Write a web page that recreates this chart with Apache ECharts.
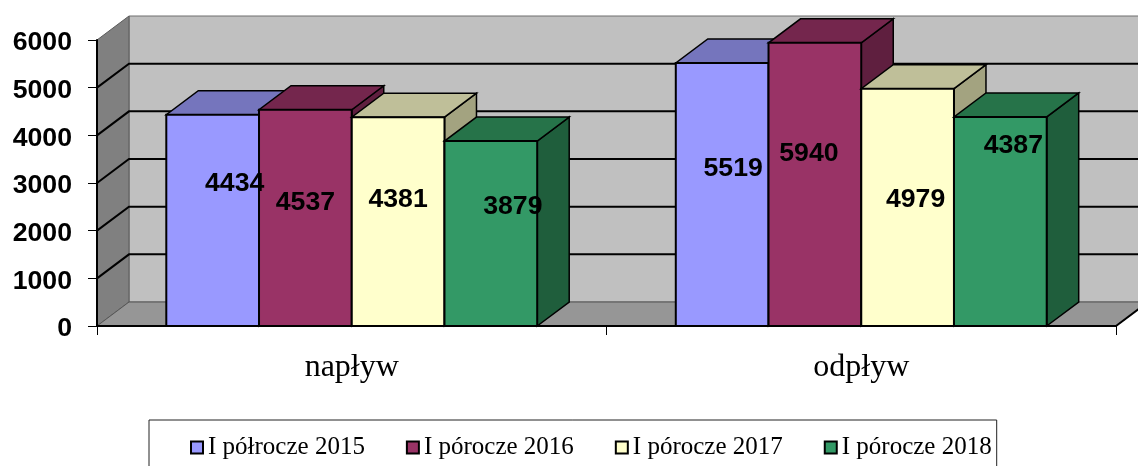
<!DOCTYPE html>
<html>
<head>
<meta charset="utf-8">
<style>html,body{margin:0;padding:0;background:#fff}#c{width:1138px;height:466px}</style>
<script src="https://cdn.jsdelivr.net/npm/echarts@6/dist/echarts.min.js"></script>
</head>
<body>
<div id="c"></div>
<script>
const categories = ['napływ', 'odpływ'];
const yTicks = [0, 1000, 2000, 3000, 4000, 5000, 6000];
const seriesNames = ['I półrocze 2015', 'I pórocze 2016', 'I pórocze 2017', 'I pórocze 2018'];
const values2015 = [4434, 5519];
const values2016 = [4537, 5940];
const values2017 = [4381, 4979];
const values2018 = [3879, 4387];
const allValues = [values2015, values2016, values2017, values2018];

// presentation only
const frontColors = ['#9999FF', '#993366', '#FFFFCC', '#339966'];
const topColors = ['#7575BD', '#74264D', '#BFBF99', '#267349'];
const sideColors = ['#5C5C99', '#5F1F3F', '#A3A380', '#1F5E3C'];
const DEPTH_X = 32, DEPTH_Y = -24, BAR_FRACTION = 0.182;
// hand-placed data labels: [dx from bar centre, dy below bar top]
const labelShift = [
  [[22, 69], [11, 106]],
  [[0, 93], [-6, 111]],
  [[0, 82], [8, 111]],
  [[22, 66], [13, 29]]
];

const chart = echarts.init(document.getElementById('c'));

function poly(points, fill, stroke, lw) {
  return { type: 'polygon', shape: { points }, style: { fill, stroke: stroke || null, lineWidth: lw || 0, lineJoin: 'miter' } };
}

function renderWalls(params, api) {
  const bw = api.size([1, 0])[0];
  const xL = api.coord([0, 0])[0] - bw / 2;
  const xR = api.coord([1, 0])[0] + bw / 2;
  const y0 = api.coord([0, yTicks[0]])[1];
  const yT = api.coord([0, yTicks[yTicks.length - 1]])[1];
  const d = (x, y) => [x + DEPTH_X, y + DEPTH_Y];
  const children = [
    poly([d(xL, yT), d(xR, yT), d(xR, y0), d(xL, y0)], '#C0C0C0', '#6e6e6e', 1),
    poly([[xL, y0], d(xL, y0), d(xL, yT), [xL, yT]], '#808080', '#5a5a5a', 1),
    poly([[xL, y0], [xR, y0], d(xR, y0), d(xL, y0)], '#969696', '#555555', 1)
  ];
  yTicks.slice(1, -1).forEach(t => {
    const y = api.coord([0, t])[1];
    children.push({ type: 'polyline', shape: { points: [[xL, y], d(xL, y), d(xR, y)] },
      style: { fill: null, stroke: '#000', lineWidth: 2 } });
  });
  children.push({ type: 'line', shape: { x1: xR, y1: y0, x2: xR + DEPTH_X, y2: y0 + DEPTH_Y },
    style: { stroke: '#000', lineWidth: 2 } });
  return { type: 'group', children };
}

function makeRender(si) {
  return function (params, api) {
    const cat = api.value(0), val = api.value(1);
    const bw = api.size([1, 0])[0];
    const w = bw * BAR_FRACTION;
    const cx = api.coord([cat, 0])[0];
    const y0 = api.coord([cat, 0])[1];
    const yt = api.coord([cat, val])[1];
    const x0 = cx - 2 * w + si * w, x1 = x0 + w;
    const d = (x, y) => [x + DEPTH_X, y + DEPTH_Y];
    const shift = labelShift[si][cat];
    return { type: 'group', children: [
      poly([[x1, y0], d(x1, y0), d(x1, yt), [x1, yt]], sideColors[si], '#000', 1.5),
      poly([[x0, yt], [x1, yt], d(x1, yt), d(x0, yt)], topColors[si], '#000', 1.5),
      poly([[x0, y0], [x1, y0], [x1, yt], [x0, yt]], api.visual('color'), '#000', 2),
      { type: 'text', z2: 100, style: {
          x: x0 + w / 2 + shift[0], y: yt + shift[1], text: String(val),
          fill: '#000', align: 'center', verticalAlign: 'middle',
          font: 'bold 26.67px "Liberation Sans", Arial, sans-serif' } }
    ] };
  };
}

const seriesList = [{
  type: 'custom', name: 'walls', silent: true, clip: false,
  data: [[0, 0]], encode: { x: 0, y: 1 }, renderItem: renderWalls
}];
allValues.forEach((vals, si) => {
  seriesList.push({
    type: 'custom', name: seriesNames[si], clip: false,
    itemStyle: { color: frontColors[si] },
    data: vals.map((v, i) => [i, v]), encode: { x: 0, y: 1 },
    renderItem: makeRender(si)
  });
});

chart.setOption({
  animation: false,
  backgroundColor: '#fff',
  grid: { left: 97, right: 22, top: 40, height: 286, containLabel: false },
  xAxis: {
    type: 'category', data: categories, z: 10,
    axisLine: { show: true, lineStyle: { color: '#000', width: 2 } },
    axisTick: { show: true, alignWithLabel: false, length: 9, lineStyle: { color: '#000', width: 1 } },
    axisLabel: { color: '#000', fontFamily: '"Liberation Serif", "Times New Roman", serif', fontSize: 32, margin: 26 },
    splitLine: { show: false }
  },
  yAxis: {
    type: 'value', min: 0, max: 6000, interval: 1000, z: 10,
    axisLine: { show: true, onZero: false, lineStyle: { color: '#000', width: 2 } },
    axisTick: { show: true, length: 9, lineStyle: { color: '#000', width: 1 } },
    axisLabel: { margin: 25, formatter: v => '{t|' + v + '}',
      rich: { t: { color: '#000', fontFamily: '"Liberation Sans", Arial, sans-serif', fontWeight: 'bold', fontSize: 26.67, padding: [6, 0, 0, 0] } } },
    splitLine: { show: false }
  },
  legend: {
    data: seriesNames, left: 149, top: 420, orient: 'horizontal',
    padding: [15, 5, 60, 41], itemGap: 41, itemWidth: 12, itemHeight: 12,
    borderColor: '#222', borderWidth: 1, backgroundColor: '#fff',
    selectedMode: false, icon: 'rect',
    itemStyle: { borderColor: '#000', borderWidth: 2 },
    textStyle: { color: '#000', fontFamily: '"Liberation Serif", "Times New Roman", serif', fontSize: 25 }
  },
  tooltip: { show: false },
  series: seriesList
});
</script>
</body>
</html>
